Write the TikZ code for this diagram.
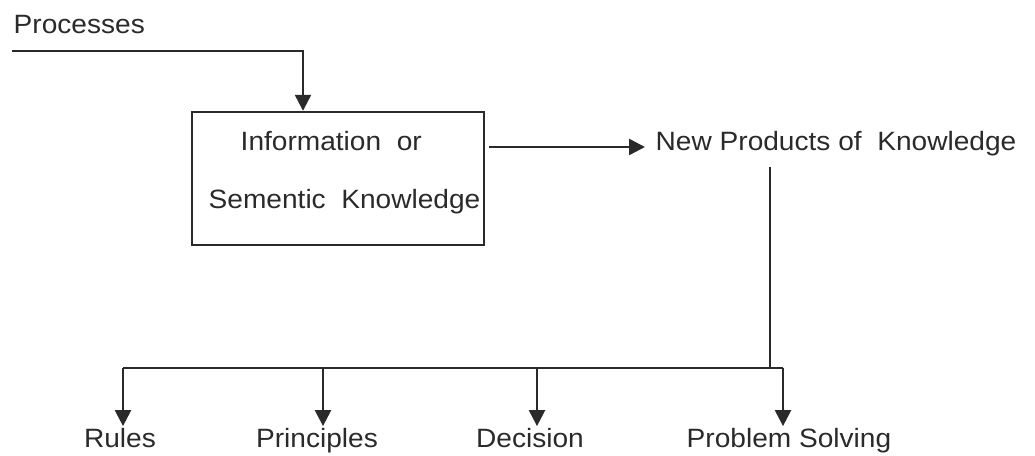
\documentclass[tikz,border=0pt]{standalone}
\usepackage{fontspec}
\setmainfont[FakeStretch=1.06]{Liberation Sans}
\usetikzlibrary{arrows.meta}
\definecolor{ink}{HTML}{2A2A2A}
\tikzset{
  lab/.style={font=\fontsize{26.5}{30}\selectfont, text=ink, inner sep=1.5pt},
  wire/.style={draw=ink, line width=2.4pt},
  arr/.style={wire, -{Triangle[length=16pt,width=16pt]}},
  frame/.style={draw=ink, line width=2.4pt, minimum width=292pt, minimum height=133pt, inner sep=0pt}
}
\begin{document}
\begin{tikzpicture}[x=1pt,y=-1pt]
  \useasboundingbox (0,0) rectangle (1035,455);

  % input label and its feed line
  \node[lab, anchor=base west] (proc) at (12,33) {Processes};
  \coordinate (pstart) at (12,51);

  % central box with its two text lines
  \node[frame] (info) at (338,178.5) {};
  \node[lab, anchor=base west] (info1) at (239,150) {Information\ \ or};
  \node[lab, anchor=base west] (info2) at (207,208) {Sementic\ \ Knowledge};

  % output label
  \node[lab, anchor=base west] (newp) at (654,150) {New Products of\ \ Knowledge};

  % bus and drop points
  \coordinate (trunk) at (770,167);
  \coordinate (bus) at (770,368);
  \coordinate (d1) at (123,368);
  \coordinate (d2) at (323,368);
  \coordinate (d3) at (537,368);
  \coordinate (d4) at (783,368);

  % outcome labels
  \node[lab, anchor=base] (rules) at (120,447) {Rules};
  \node[lab, anchor=base] (princ) at (317,447) {Principles};
  \node[lab, anchor=base] (deci)  at (530,447) {Decision};
  \node[lab, anchor=base] (probs) at (789,447) {Problem Solving};

  % connectors
  \draw[arr] (pstart) -| ([xshift=-35pt]info.north);
  \draw[arr] ([xshift=4pt]info.east |- 0,147) -- ([xshift=-9pt]newp.west |- 0,147);
  \draw[wire] (trunk) -- (bus);
  \draw[wire] (d1) -- (d4);
  \draw[arr] (d1) -- (d1 |- rules.north);
  \draw[arr] (d2) -- (d2 |- princ.north);
  \draw[arr] (d3) -- (d3 |- deci.north);
  \draw[arr] (d4) -- (d4 |- probs.north);
\end{tikzpicture}
\end{document}
